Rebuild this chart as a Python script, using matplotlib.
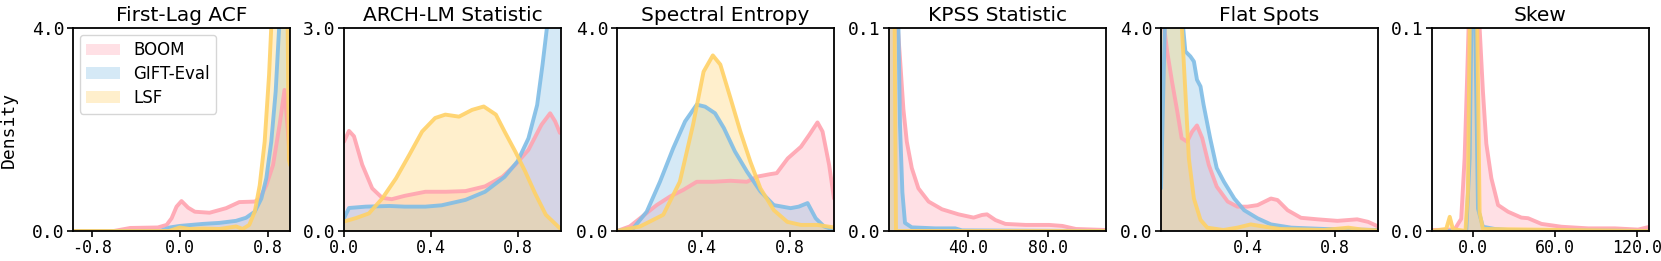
import matplotlib.pyplot as plt
from matplotlib.ticker import FormatStrFormatter

# Названия панелей и подписи осей
titles = ['First-Lag ACF', 'ARCH-LM Statistic', 'Spectral Entropy',
          'KPSS Statistic', 'Flat Spots', 'Skew']
series_names = ['BOOM', 'GIFT-Eval', 'LSF']
xlims = [(-0.97, 1.0), (0.0, 1.0), (0.015, 1.0), (0.5, 109), (0.006, 0.995), (-30, 129)]
ymaxs = [4.0, 3.0, 4.0, 0.1, 4.0, 0.1]
xticks = [[-0.8, 0.0, 0.8], [0.0, 0.4, 0.8], [0.4, 0.8], [40.0, 80.0], [0.4, 0.8], [0.0, 60.0, 120.0]]

# First-Lag ACF
acf_boom_x = [-0.97, -0.6, -0.45, -0.2, -0.12, -0.075, -0.03, 0.015, 0.075, 0.136, 0.27, 0.42,
              0.54, 0.68, 0.725, 0.785, 0.846, 0.906, 0.95, 0.98, 1.0]
acf_boom_y = [0.0, 0.0, 0.06, 0.07, 0.12, 0.25, 0.48, 0.59, 0.46, 0.38, 0.36, 0.45,
              0.57, 0.58, 0.64, 0.9, 1.3, 2.1, 2.78, 2.0, 1.4]
acf_gift_x = [-0.97, -0.18, -0.09, 0.0, 0.21, 0.36, 0.51, 0.6, 0.68, 0.74, 0.785, 0.83,
              0.87, 0.906, 0.95, 1.0]
acf_gift_y = [0.0, 0.0, 0.07, 0.1, 0.14, 0.16, 0.2, 0.26, 0.38, 0.64, 1.04, 1.76,
              2.75, 4.2, 6.0, 5.0]
acf_lsf_x = [-0.97, -0.1, 0.0, 0.09, 0.21, 0.36, 0.51, 0.57, 0.63, 0.68, 0.725, 0.77,
             0.81, 0.84, 0.97, 0.99, 1.0]
acf_lsf_y = [0.0, 0.0, 0.07, 0.04, 0.05, 0.04, 0.09, 0.04, 0.12, 0.38, 0.9, 1.76,
             3.08, 4.5, 6.0, 1.4, 1.3]

# ARCH-LM Statistic
arch_boom_x = [0.0, 0.023, 0.046, 0.084, 0.13, 0.176, 0.22, 0.28, 0.375, 0.47, 0.56, 0.65,
               0.73, 0.79, 0.85, 0.91, 0.95, 0.973, 0.995]
arch_boom_y = [1.32, 1.48, 1.4, 0.98, 0.63, 0.49, 0.47, 0.52, 0.58, 0.58, 0.59, 0.66,
               0.80, 0.98, 1.2, 1.57, 1.74, 1.62, 1.45]
arch_gift_x = [0.0, 0.023, 0.1, 0.21, 0.28, 0.375, 0.45, 0.56, 0.65, 0.74, 0.80, 0.85,
               0.89, 0.915, 0.935, 0.96, 1.0]
arch_gift_y = [0.19, 0.34, 0.36, 0.37, 0.36, 0.36, 0.38, 0.46, 0.58, 0.80, 1.03, 1.37,
               1.86, 2.46, 3.0, 4.5, 6.0]
arch_lsf_x = [0.0, 0.054, 0.115, 0.176, 0.24, 0.3, 0.36, 0.42, 0.467, 0.53, 0.59, 0.644,
              0.70, 0.74, 0.79, 0.835, 0.88, 0.93, 0.995]
arch_lsf_y = [0.14, 0.19, 0.26, 0.48, 0.78, 1.12, 1.47, 1.67, 1.72, 1.69, 1.79, 1.84,
              1.72, 1.47, 1.17, 0.88, 0.56, 0.24, 0.04]

# Spectral Entropy
spec_boom_x = [0.015, 0.073, 0.134, 0.195, 0.256, 0.316, 0.377, 0.453, 0.53, 0.605, 0.65,
               0.71, 0.74, 0.79, 0.85, 0.887, 0.925, 0.948, 0.978, 1.0]
spec_boom_y = [0.0, 0.09, 0.30, 0.51, 0.68, 0.81, 0.97, 0.97, 0.99, 0.97, 1.07,
               1.12, 1.14, 1.43, 1.66, 1.89, 2.14, 1.96, 1.30, 0.64]
spec_gift_x = [0.015, 0.088, 0.15, 0.21, 0.27, 0.324, 0.377, 0.415, 0.46, 0.5, 0.55,
               0.605, 0.666, 0.727, 0.803, 0.84, 0.88, 0.917, 0.955, 1.0]
spec_gift_y = [0.0, 0.05, 0.38, 0.97, 1.63, 2.16, 2.49, 2.45, 2.32, 2.03, 1.57,
               1.17, 0.78, 0.51, 0.45, 0.48, 0.55, 0.25, 0.09, 0.02]
spec_lsf_x = [0.015, 0.12, 0.225, 0.30, 0.36, 0.408, 0.45, 0.484, 0.53, 0.575, 0.62,
              0.666, 0.727, 0.788, 0.85, 0.925, 1.0]
spec_lsf_y = [0.0, 0.09, 0.32, 0.97, 2.09, 3.14, 3.46, 3.28, 2.62, 1.96, 1.37,
              0.84, 0.41, 0.18, 0.12, 0.12, 0.07]

# KPSS Statistic
kpss_boom_x = [0.5, 3.5, 6.0, 7.7, 9.4, 11.9, 15.2, 20.3, 27, 35.3, 42.8, 47, 49.5,
               53.7, 58.7, 68.8, 80.5, 87.2, 93.9, 109]
kpss_boom_y = [0.3, 0.12, 0.085, 0.06, 0.044, 0.031, 0.021, 0.0145, 0.0107, 0.0082, 0.0066,
               0.0079, 0.0082, 0.0054, 0.0035, 0.003, 0.003, 0.0025, 0.001, 0.0005]
kpss_gift_x = [0.5, 4.9, 6.0, 7.2, 8.5, 11.9, 23.6, 33.6, 37, 109]
kpss_gift_y = [0.4, 0.12, 0.052, 0.019, 0.004, 0.0018, 0.0013, 0.0013, 0.0003, 0.0]
kpss_lsf_x = [0.5, 3.2, 4.0, 109]
kpss_lsf_y = [0.5, 0.12, 0.0, 0.0]

# Flat Spots
flat_boom_x = [0.006, 0.018, 0.034, 0.056, 0.08, 0.1, 0.125, 0.148, 0.17, 0.194, 0.224,
               0.26, 0.31, 0.354, 0.4, 0.446, 0.507, 0.537, 0.583, 0.644, 0.72, 0.81,
               0.9, 0.95, 0.995]
flat_boom_y = [5.0, 4.1, 3.54, 2.95, 2.36, 1.83, 1.76, 1.96, 2.08, 1.83, 1.30,
               0.875, 0.58, 0.48, 0.48, 0.51, 0.64, 0.61, 0.41, 0.26, 0.23, 0.2,
               0.23, 0.18, 0.09]
flat_gift_x = [0.006, 0.026, 0.06, 0.105, 0.117, 0.14, 0.156, 0.17, 0.186, 0.2, 0.23,
               0.26, 0.293, 0.34, 0.385, 0.446, 0.507, 0.6, 0.75, 0.995]
flat_gift_y = [0.84, 4.5, 5.0, 4.1, 3.54, 3.44, 3.34, 2.98, 2.85, 2.49, 1.83,
               1.24, 0.97, 0.64, 0.41, 0.25, 0.13, 0.066, 0.04, 0.02]
flat_lsf_x = [0.006, 0.05, 0.1, 0.117, 0.133, 0.156, 0.186, 0.217, 0.29, 0.354, 0.415,
              0.476, 0.55, 0.75, 0.86, 0.92, 0.995]
flat_lsf_y = [5.0, 6.0, 4.1, 2.75, 1.43, 0.64, 0.22, 0.066, 0.02, 0.066, 0.13,
              0.086, 0.04, 0.02, 0.066, 0.03, 0.01]

# Skew
skew_boom_x = [-30, -13.5, -8.6, -6.1, -4.2, -3.2, 0.0, 4.9, 7.3, 9.8, 13.5, 18.4, 25.7,
               35.5, 40.4, 50.2, 64.9, 84.5, 104, 121, 129]
skew_boom_y = [0.0005, 0.0007, 0.006, 0.036, 0.077, 0.1, 0.25, 0.1, 0.069, 0.043, 0.026,
               0.0128, 0.0095, 0.0066, 0.0063, 0.0035, 0.0021, 0.0013, 0.0013, 0.0007, 0.002]
skew_gift_x = [-30, -4.9, -2.4, -1.2, 0.0, 1.7, 3.7, 7.3, 16, 25.7, 129]
skew_gift_y = [0.0, 0.0, 0.036, 0.1, 0.5, 0.1, 0.011, 0.0021, 0.001, 0.0005, 0.0]
skew_lsf_x = [-30, -19.6, -17, -14.7, -5.5, -3.7, -2.4, 0.5, 3.2, 4.9, 7.3, 129]
skew_lsf_y = [0.0, 0.001, 0.007, 0.001, 0.0, 0.019, 0.1, 0.4, 0.1, 0.009, 0.001, 0.0]

panels = [
    [(acf_boom_x, acf_boom_y), (acf_gift_x, acf_gift_y), (acf_lsf_x, acf_lsf_y)],
    [(arch_boom_x, arch_boom_y), (arch_gift_x, arch_gift_y), (arch_lsf_x, arch_lsf_y)],
    [(spec_boom_x, spec_boom_y), (spec_gift_x, spec_gift_y), (spec_lsf_x, spec_lsf_y)],
    [(kpss_boom_x, kpss_boom_y), (kpss_gift_x, kpss_gift_y), (kpss_lsf_x, kpss_lsf_y)],
    [(flat_boom_x, flat_boom_y), (flat_gift_x, flat_gift_y), (flat_lsf_x, flat_lsf_y)],
    [(skew_boom_x, skew_boom_y), (skew_gift_x, skew_gift_y), (skew_lsf_x, skew_lsf_y)],
]

colors = ['#FFA3B0', '#80BDE6', '#FFD166']
title_font = 'DejaVu Sans'
mono_font = 'DejaVu Sans Mono'

fig = plt.figure(figsize=(16.61, 2.61), dpi=100)
lefts = [73, 344, 617, 889, 1161, 1432]

for i, curves in enumerate(panels):
    ax = fig.add_axes([lefts[i] / 1661, 30 / 261, 217 / 1661, 203 / 261])
    for (x, y), c, name in zip(curves, colors, series_names):
        ax.fill_between(x, 0, y, color=c, alpha=0.33, lw=0, label=name)
        ax.plot(x, y, color=c, lw=2.8, alpha=0.9, solid_joinstyle='round', solid_capstyle='round')
    ax.set_xlim(*xlims[i])
    ax.set_ylim(0, ymaxs[i])
    ax.set_yticks([0, ymaxs[i]])
    ax.set_xticks(xticks[i])
    ax.yaxis.set_major_formatter(FormatStrFormatter('%.1f'))
    ax.xaxis.set_major_formatter(FormatStrFormatter('%.1f'))
    for lab in ax.get_xticklabels():
        lab.set_fontfamily(mono_font)
        lab.set_fontsize(12)
    for lab in ax.get_yticklabels():
        lab.set_fontfamily(mono_font)
        lab.set_fontsize(13)
    ax.tick_params(length=4, width=1.2, pad=2)
    for s in ax.spines.values():
        s.set_linewidth(1.3)
    ax.set_title(titles[i], fontsize=14.5, fontfamily=title_font, pad=5)
    if i == 0:
        ax.set_ylabel('Density', fontsize=13, fontfamily=mono_font, labelpad=10)
        leg = ax.legend(loc='upper left', prop={'family': title_font, 'size': 12},
                        handlelength=2.0, labelspacing=0.35, borderaxespad=0.4,
                        fancybox=True)

fig.savefig('out.png', dpi=100)
